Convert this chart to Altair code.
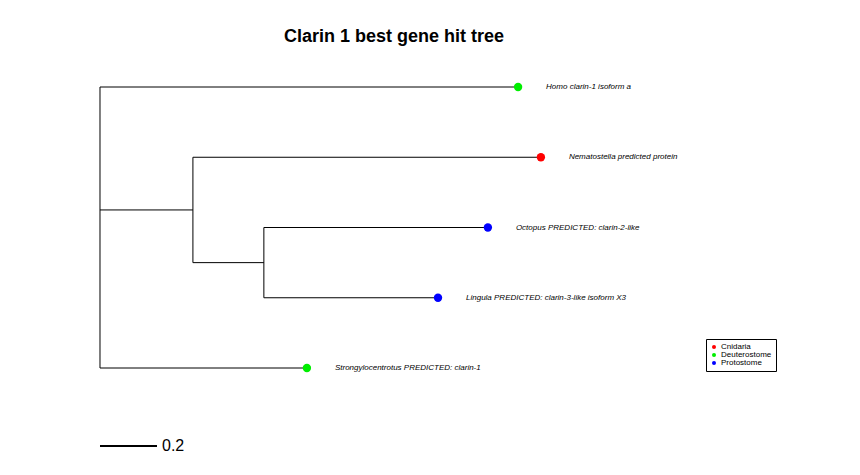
import pandas as pd
import altair as alt

# tips (top to bottom)
tip_names = ["Homo  clarin-1 isoform a", "Nematostella  predicted protein",
             "Octopus  PREDICTED: clarin-2-like", "Lingula  PREDICTED: clarin-3-like isoform X3",
             "Strongylocentrotus  PREDICTED: clarin-1"]
tip_depth = [1.467, 1.547, 1.361, 1.186, 0.726]
tip_rank = [1, 2, 3, 4, 5]
tip_group = ["Deuterostome", "Cnidaria", "Protostome", "Protostome", "Deuterostome"]

# branches as (x, x2, y, y2)
seg_x = [0.0, 0.0, 0.0, 0.0, 0.326, 0.326, 0.326, 0.575, 0.575, 0.575]
seg_x2 = [0.0, 1.467, 0.726, 0.326, 0.326, 1.547, 0.575, 0.575, 1.361, 1.186]
seg_y = [1, 1, 5, 2.75, 2, 2, 3.5, 3, 3, 4]
seg_y2 = [5, 1, 5, 2.75, 3.5, 2, 3.5, 4, 3, 4]

segs = pd.DataFrame({"x": seg_x, "x2": seg_x2, "y": seg_y, "y2": seg_y2})
tips = pd.DataFrame({"name": tip_names, "x": tip_depth, "y": tip_rank, "group": tip_group})
scale_bar = pd.DataFrame({"x": [0.0], "x2": [0.2], "y": [6.11], "label": ["0.2"]})

xs = alt.Scale(domain=[-0.3228, 2.6386], nice=False, zero=False)
ys = alt.Scale(domain=[-0.1246, 6.409], reverse=True, nice=False, zero=False)
X = alt.X("x:Q", scale=xs, axis=None)
Y = alt.Y("y:Q", scale=ys, axis=None)

branches = alt.Chart(segs).mark_rule(color="black", strokeWidth=1).encode(
    x=X, x2="x2:Q", y=Y, y2="y2:Q")

points = alt.Chart(tips).mark_circle(size=70, opacity=1).encode(
    x=X, y=Y,
    color=alt.Color("group:N",
                    scale=alt.Scale(domain=["Cnidaria", "Deuterostome", "Protostome"],
                                    range=["#ff0000", "#00ee00", "#0000ff"]),
                    legend=alt.Legend(title=None, orient="none", legendX=698, legendY=331,
                                      strokeColor="black", padding=4, symbolSize=16,
                                      labelFontSize=8, labelFont="Liberation Sans",
                                      rowPadding=0, labelOffset=3, cornerRadius=0)))

labels = alt.Chart(tips).mark_text(align="left", baseline="middle", dx=28, fontSize=8,
                                   fontStyle="italic", font="Liberation Sans").encode(
    x=X, y=Y, text="name:N")

bar = alt.Chart(scale_bar).mark_rule(color="black", strokeWidth=2).encode(x=X, x2="x2:Q", y=Y)
bar_text = alt.Chart(scale_bar).mark_text(align="left", baseline="middle", dx=5, fontSize=16,
                                          font="Liberation Sans").encode(
    x="x2:Q", y=Y, text="label:N")

title = alt.Chart(pd.DataFrame({"t": ["Clarin 1 best gene hit tree"]})).mark_text(
    fontSize=18, fontWeight="bold", font="Liberation Sans", baseline="middle").encode(
    x=alt.value(386), y=alt.value(29), text="t:N")

chart = alt.layer(branches, points, labels, bar, bar_text, title).properties(
    width=844, height=459, autosize=alt.AutoSizeParams(type="fit", contains="padding"),
    padding=0
).configure_view(stroke=None)

chart.save("out.html", embed_options={"renderer": "svg", "actions": False})
